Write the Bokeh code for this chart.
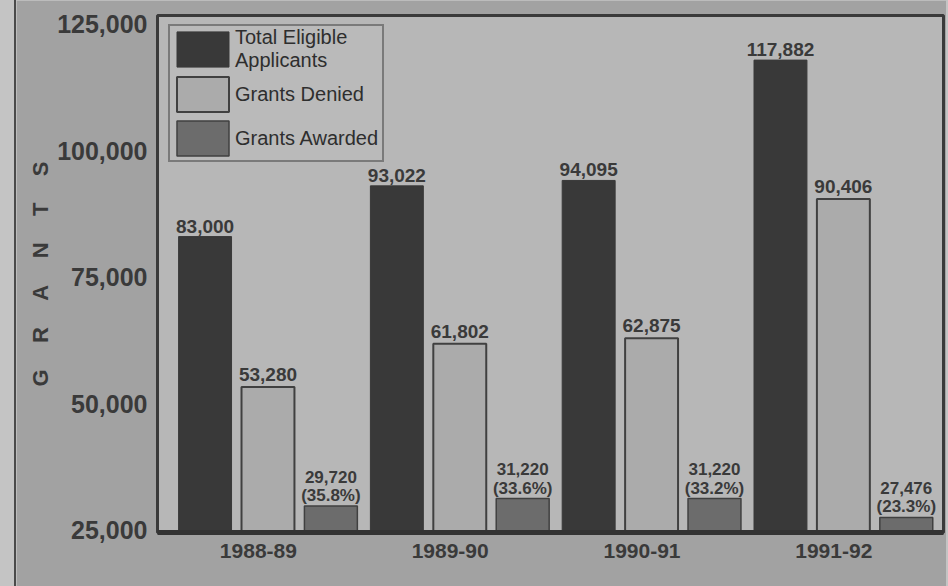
from bokeh.plotting import figure
from bokeh.models import (ColumnDataSource, Range1d, FixedTicker, NumeralTickFormatter,
                          GlobalInlineStyleSheet)
from bokeh.transform import dodge
from bokeh.core.properties import value
from bokeh.embed import file_html
from bokeh.resources import INLINE

# ---- data ----
years = ["1988-89", "1989-90", "1990-91", "1991-92"]
eligible = [83000, 93022, 94095, 117882]
denied = [53280, 61802, 62875, 90406]
awarded = [29720, 31220, 31220, 27476]
awarded_pct = ["35.8%", "33.6%", "33.2%", "23.3%"]
y_ticks = [25000, 50000, 75000, 100000, 125000]
y_title = "GRANTS"

FONT = "Liberation Sans"
INK = "#3a3a3a"

src = ColumnDataSource(dict(
    x=list(range(len(years))),
    eligible=eligible,
    denied=denied,
    awarded=awarded,
    eligible_lbl=[f"{v:,}" for v in eligible],
    denied_lbl=[f"{v:,}" for v in denied],
    awarded_lbl=[f"{v:,}\n({p})" for v, p in zip(awarded, awarded_pct)],
))

p = figure(width=932, height=586, output_backend="svg", toolbar_location=None,
           x_range=Range1d(-0.576, 3.522), y_range=Range1d(24500, 126700),
           min_border_left=141, min_border_right=5, min_border_top=15, min_border_bottom=54)

p.stylesheets = [GlobalInlineStyleSheet(css="body { background: #c4c4c4; margin: 0; }")]
p.styles = {"margin-left": "14px", "border-left": "2px solid #4a4a4a"}

p.background_fill_color = "#b7b7b7"
p.border_fill_color = "#a2a2a2"
p.outline_line_color = INK
p.outline_line_width = 3
p.grid.visible = False

OFF = 0.328
W = 0.276

p.vbar(x=dodge("x", -OFF, range=p.x_range), top="eligible", width=W, source=src,
       fill_color="#393939", line_color="#393939", legend_label="Total Eligible\nApplicants")
p.vbar(x=dodge("x", 0.0, range=p.x_range), top="denied", width=W, source=src,
       fill_color="#ababab", line_color="#404040", line_width=2, legend_label="Grants Denied")
p.vbar(x=dodge("x", OFF, range=p.x_range), top="awarded", width=W, source=src,
       fill_color="#6c6c6c", line_color="#404040", line_width=1.5, legend_label="Grants Awarded")

common = dict(text_font=value(FONT), text_font_style="bold", text_color=INK,
              text_align="center", text_baseline="bottom", source=src)
p.text(x=dodge("x", -OFF, range=p.x_range), y="eligible", text="eligible_lbl",
       text_font_size="19px", y_offset=-4, **common)
p.text(x=dodge("x", 0.0, range=p.x_range), y="denied", text="denied_lbl",
       text_font_size="19px", y_offset=-6, **common)
p.text(x=dodge("x", OFF, range=p.x_range), y="awarded", text="awarded_lbl",
       text_font_size="17px", text_line_height=0.95, y_offset=-1, **common)

# axes
xa = p.xaxis[0]
xa.ticker = FixedTicker(ticks=[i - 0.05 for i in range(len(years))])
xa.major_label_overrides = {i - 0.05: y for i, y in enumerate(years)}
xa.major_label_text_font = FONT
xa.major_label_text_font_style = "bold"
xa.major_label_text_font_size = "21px"
xa.major_label_text_color = INK
xa.major_label_standoff = 5
xa.axis_line_color = "#333333"
xa.axis_line_width = 5
xa.major_tick_line_color = None
xa.minor_tick_line_color = None

ya = p.yaxis[0]
ya.ticker = FixedTicker(ticks=y_ticks)
ya.formatter = NumeralTickFormatter(format="0,0")
ya.major_label_text_font = FONT
ya.major_label_text_font_style = "bold"
ya.major_label_text_font_size = "25px"
ya.major_label_text_color = INK
ya.major_label_standoff = 4
ya.axis_line_color = None
ya.major_tick_line_color = None
ya.minor_tick_line_color = None
ya.axis_label = "\u2003\u2009".join(y_title)
ya.axis_label_text_font = FONT
ya.axis_label_text_font_style = "bold"
ya.axis_label_text_font_size = "22px"
ya.axis_label_text_color = INK
ya.axis_label_standoff = 1

lg = p.legend[0]
lg.location = (11, 370)
lg.margin = 0
lg.padding = 0
lg.spacing = 0
lg.glyph_width = 65
lg.glyph_height = 44
lg.label_standoff = 0
lg.label_width = 147
lg.label_text_font = FONT
lg.label_text_font_size = "20px"
lg.label_text_color = "#2e2e2e"
lg.label_text_line_height = 0.7
lg.background_fill_color = "#bababa"
lg.background_fill_alpha = 1.0
lg.border_line_color = INK
lg.border_line_width = 2

open("out.html", "w").write(file_html(p, INLINE))
